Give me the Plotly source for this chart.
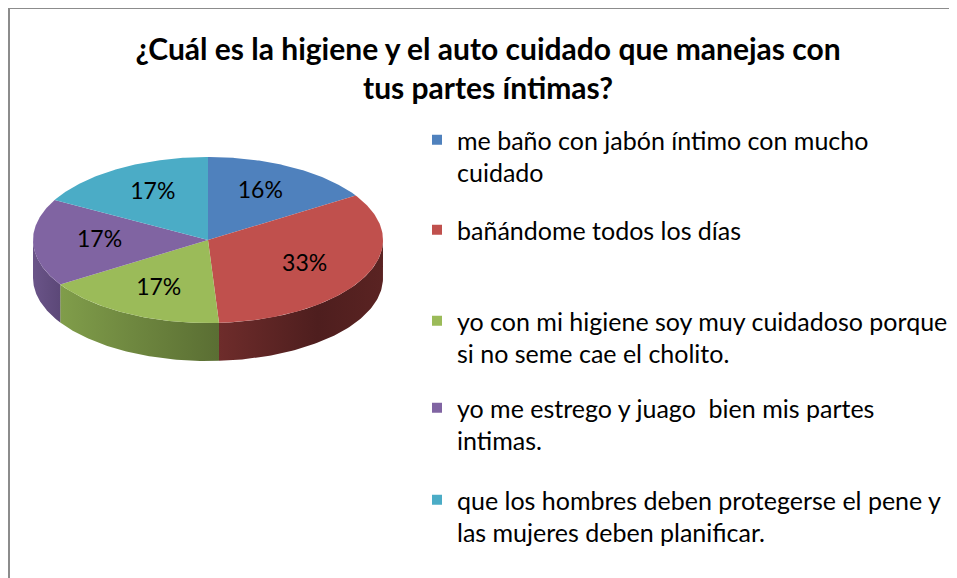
import numpy as np
import plotly.graph_objects as go

# ---- data ----
categories = [
    "me baño con jabón íntimo con mucho<br>cuidado",
    "bañándome todos los días",
    "yo con mi higiene soy muy cuidadoso porque<br>si no seme cae el cholito.",
    "yo me estrego y juago  bien mis partes<br>intimas.",
    "que los hombres deben protegerse el pene y<br>las mujeres deben planificar.",
]
values = [16, 33, 17, 17, 17]
pct_labels = ["16%", "33%", "17%", "17%", "17%"]

title_lines = ["¿Cuál es la higiene y el auto cuidado que manejas con", "tus partes íntimas?"]

# ---- style ----
top_colors = ["#4F81BD", "#C0504D", "#9BBB59", "#8064A2", "#4BACC6"]
side_scales = [
    [[0, "#3A5F8C"], [1, "#2B4768"]],
    [[0, "#6E2C2B"], [0.6, "#4E1E1E"], [1, "#5A2322"]],
    [[0, "#809D4A"], [1, "#5A6E33"]],
    [[0, "#6A5488"], [1, "#5C4878"]],
    [[0, "#38809A"], [1, "#2A6073"]],
]
FONT = "Lato"
W, H = 957, 578
OFF = 8  # page body margin
cx, cy, rx, ry, depth = 208, 240, 175, 83, 38


def px(sx):
    return (sx - OFF) / W


def py(sy):
    return 1 - (sy - OFF) / H


total = sum(values)
bounds = np.concatenate([[0], np.cumsum(values)]) / total * 2 * np.pi


def ell(t, dy=0.0):
    return cx + rx * np.sin(t), cy - ry * np.cos(t) + dy


fig = go.Figure()

# side walls (front half only)
for i, v in enumerate(values):
    a, b = bounds[i], bounds[i + 1]
    lo, hi = max(a, np.pi / 2), min(b, 3 * np.pi / 2)
    if lo >= hi:
        continue
    t = np.linspace(lo, hi, 80)
    x1, y1 = ell(t)
    x2, y2 = ell(t[::-1], depth)
    fig.add_trace(go.Scatter(
        x=np.concatenate([x1, x2, x1[:1]]), y=np.concatenate([y1, y2, y1[:1]]),
        mode="lines", line=dict(width=0), fill="toself",
        fillgradient=dict(type="horizontal", colorscale=side_scales[i]),
        hoverinfo="skip", showlegend=False,
    ))

# top faces
for i, v in enumerate(values):
    t = np.linspace(bounds[i], bounds[i + 1], 120)
    x, y = ell(t)
    fig.add_trace(go.Scatter(
        x=np.concatenate([[cx], x, [cx]]), y=np.concatenate([[cy], y, [cy]]),
        mode="lines", line=dict(width=0), fill="toself", fillcolor=top_colors[i],
        name=categories[i], hoverinfo="name", showlegend=False,
    ))

# percentage labels
mid = (bounds[:-1] + bounds[1:]) / 2
lx = cx + 0.62 * rx * np.sin(mid)
ly = cy - 0.66 * ry * np.cos(mid)
fig.add_trace(go.Scatter(
    x=lx, y=ly, mode="text", text=pct_labels,
    textfont=dict(family=FONT, size=23, color="#000000"),
    hoverinfo="skip", showlegend=False,
))

# legend entries (one legend each, positioned like the original)
legend_centers = [140, 230, 321, 408, 500]
for i, name in enumerate(categories):
    key = "legend" if i == 0 else f"legend{i + 1}"
    fig.add_trace(go.Scatter(
        x=[None], y=[None], mode="markers",
        marker=dict(symbol="square", size=10, color=top_colors[i]),
        name=name, legend=key, showlegend=True,
    ))

layout_legends = {}
for i, yc in enumerate(legend_centers):
    key = "legend" if i == 0 else f"legend{i + 1}"
    layout_legends[key] = dict(
        x=px(417), xanchor="left", y=py(yc - 23), yanchor="top",
        font=dict(family=FONT, size=25, color="#000000"),
        bgcolor="rgba(0,0,0,0)", valign="top", itemclick=False,
    )

fig.update_layout(
    width=W, height=H, margin=dict(l=0, r=0, t=0, b=0),
    paper_bgcolor="white", plot_bgcolor="white",
    title=dict(text="<b>" + title_lines[0] + "<br>" + title_lines[1] + "</b>",
               x=px(488), xanchor="center", y=py(60), yanchor="top",
               font=dict(family=FONT, size=30, color="#000000")),
    xaxis=dict(range=[OFF, OFF + W], visible=False, fixedrange=True),
    yaxis=dict(range=[OFF + H, OFF], visible=False, fixedrange=True),
    shapes=[
        dict(type="line", xref="paper", yref="paper", x0=px(9), y0=0, x1=px(9), y1=1,
             line=dict(color="#8C8C8C", width=2)),
        dict(type="line", xref="paper", yref="paper", x0=px(9), y0=1, x1=1, y1=1,
             line=dict(color="#8C8C8C", width=2)),
    ],
    **layout_legends,
)

fig.write_html("out.html")
